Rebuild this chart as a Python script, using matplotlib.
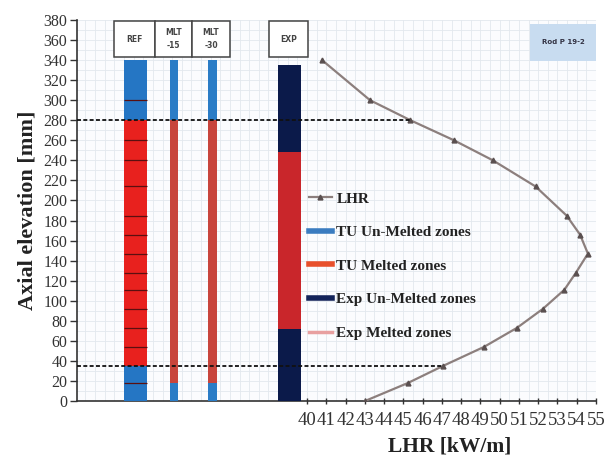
import matplotlib
matplotlib.use("Agg")
import matplotlib.pyplot as plt
import numpy as np
from matplotlib.lines import Line2D
from matplotlib.patches import Rectangle
from matplotlib.ticker import MultipleLocator, FixedLocator

# ---- data ----
elev = [0, 18, 35, 54, 73, 92, 111, 128, 147, 166, 185, 214, 240, 260, 280, 300, 340]
lhr = [43.01, 45.24, 47.06, 49.19, 50.90, 52.25, 53.36, 53.96, 54.58, 54.17,
       53.47, 51.86, 49.65, 47.63, 45.37, 43.27, 40.78]

rods = ["REF", "MLT\n-15", "MLT\n-30", "EXP"]
rod_pos = [0, 1, 2, 4]
# zones: (bottom, top, melted?)
ref_zones = [(0, 35, False), (35, 280, True), (280, 340, False)]
mlt15_zones = [(0, 18, False), (18, 280, True), (280, 340, False)]
mlt30_zones = [(0, 18, False), (18, 280, True), (280, 340, False)]
exp_zones = [(0, 72, False), (72, 248, True), (248, 335, False)]
ref_nodes = [18, 54, 73, 92, 111, 128, 147, 166, 185, 214, 240, 260, 300]
dash_levels = [280, 35]

x_ticks = list(range(40, 56))
y_ticks = list(range(0, 381, 20))

legend_labels = ["LHR", "TU Un-Melted zones", "TU Melted zones",
                 "Exp Un-Melted zones", "Exp Melted zones"]

serif = "Liberation Serif"

fig = plt.figure(figsize=(6.08, 4.62), dpi=100)
fig.patch.set_facecolor("white")
ax = fig.add_axes([77/608, 61/462, 519/608, 381/462])
ax.set_facecolor("#fbfcfe")
ax.set_xlim(28.06, 55.0)
ax.set_ylim(0, 380)
ax.xaxis.set_major_locator(FixedLocator(x_ticks))
ax.xaxis.set_minor_locator(MultipleLocator(0.5))
ax.yaxis.set_major_locator(FixedLocator(y_ticks))
ax.yaxis.set_minor_locator(MultipleLocator(10))
ax.grid(True, which="both", color="#e3e8ee", lw=0.6)
ax.set_axisbelow(True)
ax.tick_params(axis="both", which="minor", length=0)
ax.tick_params(axis="y", which="major", length=5, width=1, color="#333333", pad=2)
ax.tick_params(axis="x", which="major", length=4, width=1, color="#333333", pad=6, direction="inout")
for lab in ax.get_yticklabels():
    lab.set_fontfamily(serif); lab.set_fontsize(11.5); lab.set_color("#333333")
for lab in ax.get_xticklabels():
    lab.set_fontfamily(serif); lab.set_fontsize(13.5); lab.set_color("#333333")
for s in ["top", "right"]:
    ax.spines[s].set_visible(False)
for s in ["left", "bottom"]:
    ax.spines[s].set_color("#333333"); ax.spines[s].set_linewidth(1.2)

ax.set_ylabel("Axial elevation [mm]", fontfamily=serif, fontweight="bold",
              fontsize=16, labelpad=4, color="#222222")
ax.set_xlabel("LHR [kW/m]", fontfamily=serif, fontweight="bold",
              fontsize=15.5, color="#222222")
ax.xaxis.set_label_coords((450-77)/519, -0.092)

# LHR curve
ax.plot(lhr, elev, color="#8c7f7d", lw=1.6, marker="^", ms=3.5,
        mfc="#5a5050", mec="#5a5050", zorder=3)

# bar axes
axb = ax.twiny()
axb.set_xlim(-1.519, 11.96)
axb.set_ylim(0, 380)
axb.axis("off")

def draw_rod(pos, width, zones, c_un, c_melt):
    for b, t, m in zones:
        axb.bar(pos, t - b, bottom=b, width=width, color=c_melt if m else c_un,
                edgecolor="none", zorder=2)

draw_rod(rod_pos[0], 0.6, ref_zones, "#2576c4", "#e8211e")
draw_rod(rod_pos[1], 0.21, mlt15_zones, "#2a7cc6", "#c8453c")
draw_rod(rod_pos[2], 0.21, mlt30_zones, "#2a7cc6", "#c8453c")
draw_rod(rod_pos[3], 0.62, exp_zones, "#0b1a4a", "#c9262b")
axb.hlines(ref_nodes, rod_pos[0] - 0.3, rod_pos[0] + 0.3, color="#5a1010", lw=0.9, zorder=3)

# label boxes
box_edges = [(-0.558, 0.506), (0.506, 1.468), (1.468, 2.455), (3.468, 4.48)]
for (x0, x1), name in zip(box_edges, rods):
    axb.add_patch(Rectangle((x0, 343), x1 - x0, 36, facecolor="white",
                            edgecolor="#444444", lw=1.1, zorder=4))
    axb.text((x0 + x1) / 2, 361, name, ha="center", va="center", fontsize=5.5,
             fontweight="bold", color="#444444", zorder=5, linespacing=1.5)

# dashed lines (drawn above bars, in LHR coords)
for lv in dash_levels:
    xe = lhr[elev.index(lv)]
    axb.plot([28.06, xe], [lv, lv], transform=ax.transData, color="#111111",
             lw=1.3, ls=(0, (2.2, 1.3)), zorder=6, clip_on=False)

# Rod label box
ax.add_patch(Rectangle((0.873, 0.893), 0.127, 0.097, transform=ax.transAxes,
                       facecolor="#c8dcf0", edgecolor="none", zorder=4))
ax.text(0.9365, 0.9415, "Rod P 19-2", transform=ax.transAxes, ha="center",
        va="center", fontsize=5, fontweight="bold", color="#333344", zorder=5)

# legend
handles = [
    Line2D([], [], color="#8c7f7d", lw=1.6, marker="^", ms=3.5, mfc="#5a5050", mec="#5a5050"),
    Line2D([], [], color="#3a7cc0", lw=4),
    Line2D([], [], color="#e8502c", lw=4),
    Line2D([], [], color="#14245a", lw=4),
    Line2D([], [], color="#e8a0a0", lw=2.5),
]
leg = axb.legend(handles, legend_labels, loc="upper left",
                 bbox_to_anchor=(309/608, 1 - 192/462), bbox_transform=fig.transFigure,
                 frameon=False, borderpad=0, borderaxespad=0, handlelength=1.5,
                 handletextpad=0.3, labelspacing=1.3,
                 prop={"family": serif, "weight": "bold", "size": 11})
for t in leg.get_texts():
    t.set_color("#222222")

fig.savefig("out.png", dpi=100)
